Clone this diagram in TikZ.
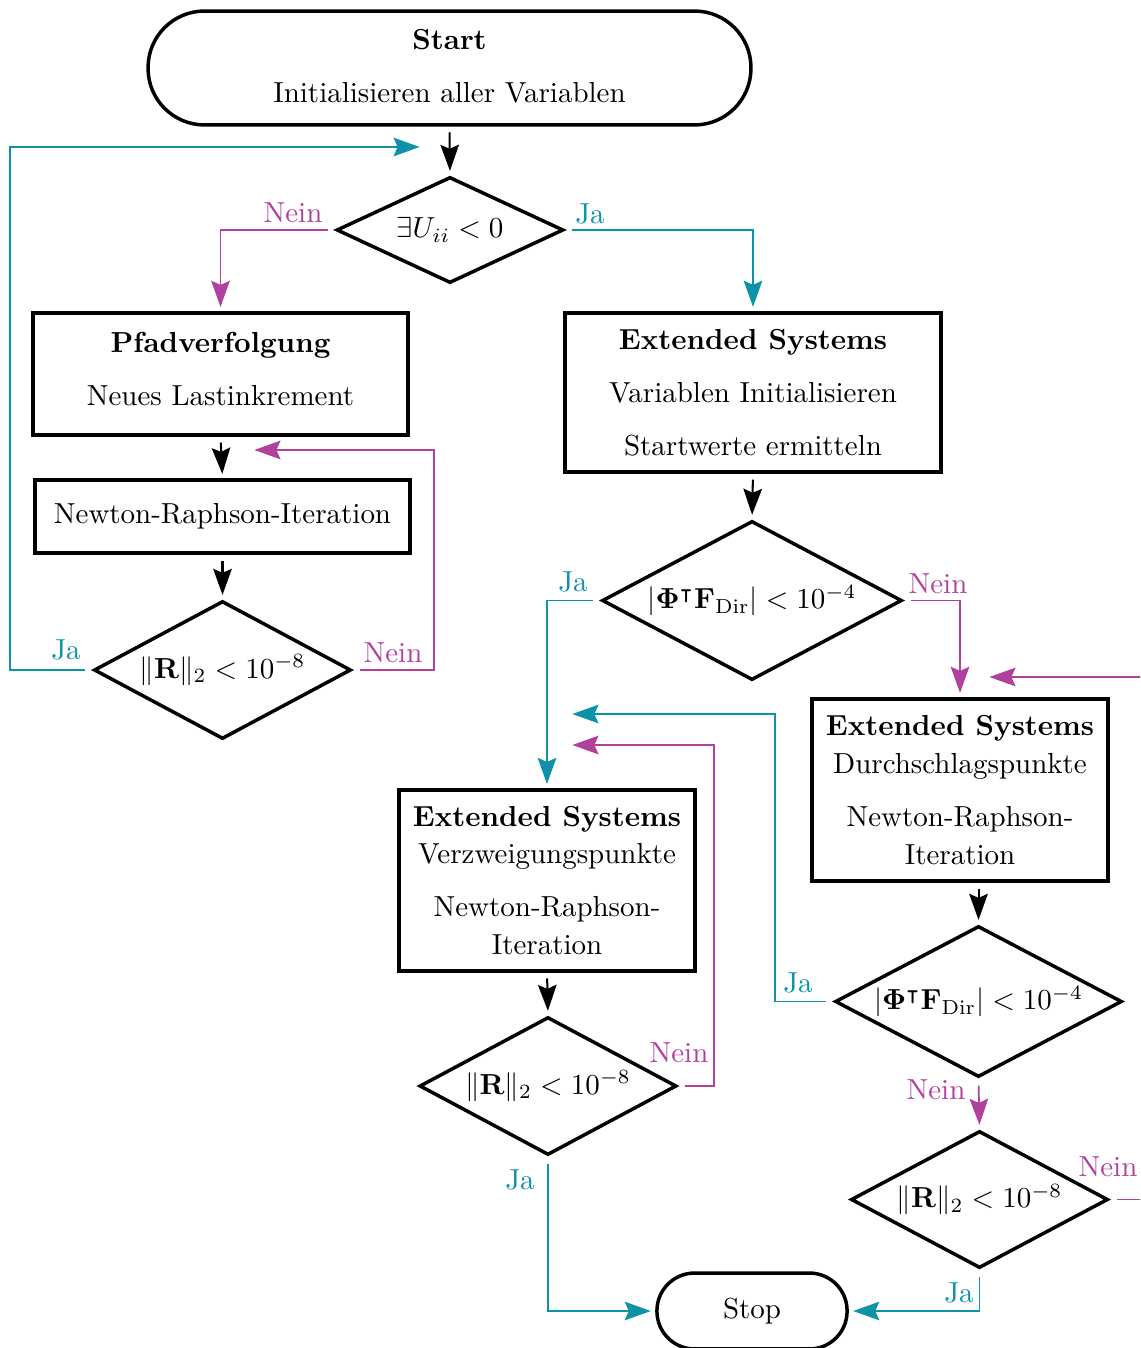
\documentclass[tikz,border=0pt]{standalone}
\usepackage{amsmath,amssymb,bm}
\usetikzlibrary{shapes.geometric,arrows.meta,calc}
\definecolor{jacol}{RGB}{14,146,168}
\definecolor{neincol}{RGB}{176,66,158}
\tikzset{
  base/.style={draw, line width=1.2pt, font=\fontsize{10}{13}\selectfont, align=center, inner sep=0pt},
  term/.style={base, rectangle, rounded corners=#1},
  box/.style={base, rectangle},
  dec/.style={base, diamond, aspect=2},
  tip/.style={-{Stealth[length=9pt,width=6.4pt,inset=1.4pt]}},
  flow/.style={tip, line width=0.7pt, shorten <=2pt, shorten >=1.5pt},
  yes/.style={tip, draw=jacol, line width=0.6pt, shorten <=2.4pt, shorten >=1.5pt},
  no/.style={tip, draw=neincol, line width=0.6pt, shorten <=2.4pt, shorten >=1.5pt},
  labja/.style={inner sep=0pt, text=jacol, font=\fontsize{10}{12}\selectfont},
  labnein/.style={inner sep=0pt, text=neincol, font=\fontsize{10}{12}\selectfont}
}
\begin{document}
\begin{tikzpicture}[x=0.345pt,y=-0.345pt]
\useasboundingbox (0,0) rectangle (1140,1348);
\clip (0,0) rectangle (1140,1348);

% nodes
\node[term=19.5pt, minimum width=208pt, minimum height=39.3pt, text depth=1.3pt] (start) at (449.5,68)
  {\textbf{Start}\\[5.3pt]Initialisieren aller Variablen};
\node[dec, minimum width=78.3pt, minimum height=36.6pt] (d1) at (450,230) {$\exists U_{ii} < 0$};
\node[box, minimum width=129.4pt, minimum height=42.1pt, text depth=3.4pt] (pfad) at (220.5,374)
  {\textbf{Pfadverfolgung}\\[5.3pt]Neues Lastinkrement};
\node[box, minimum width=129.7pt, minimum height=54.9pt] (es1) at (753,392.5)
  {\textbf{Extended Systems}\\[5.3pt]Variablen Initialisieren\\[5.3pt]Startwerte ermitteln};
\node[box, minimum width=129.4pt, minimum height=25.2pt] (nr) at (222.5,516.5) {Newton-Raphson-Iteration};
\node[dec, minimum width=88.7pt, minimum height=47.6pt] (r1) at (222.5,670) {$\|\mathbf{R}\|_2 < 10^{-8}$};
\node[dec, minimum width=103.5pt, minimum height=54.9pt] (phi1) at (752,600.5)
  {$|\bm{\Phi}^{\intercal}\mathbf{F}_{\mathrm{Dir}}| < 10^{-4}$};
\node[box, minimum width=102.1pt, minimum height=62.8pt] (esd) at (960,790)
  {\textbf{Extended Systems}\\Durchschlagspunkte\\[5.3pt]Newton-Raphson-\\Iteration};
\node[box, minimum width=102.1pt, minimum height=62.4pt] (esv) at (547,880.5)
  {\textbf{Extended Systems}\\Verzweigungspunkte\\[5.3pt]Newton-Raphson-\\Iteration};
\node[dec, minimum width=88.7pt, minimum height=47.6pt] (r2) at (548,1086) {$\|\mathbf{R}\|_2 < 10^{-8}$};
\node[term=13pt, minimum width=65.6pt, minimum height=26.2pt] (stop) at (752,1311) {Stop};
\node[dec, minimum width=99pt, minimum height=52.1pt] (phi2) at (978.5,1001.5)
  {$|\bm{\Phi}^{\intercal}\mathbf{F}_{\mathrm{Dir}}| < 10^{-4}$};
\node[dec, minimum width=88.7pt, minimum height=47.3pt] (r3) at (979.5,1199.5) {$\|\mathbf{R}\|_2 < 10^{-8}$};

% loop coordinates
\coordinate (a1) at (10,147);   \coordinate (a1t) at (424,147);
\coordinate (b1) at (434,450);  \coordinate (b1t) at (250,450);
\coordinate (c2) at (775,714);  \coordinate (c2t) at (568,714);
\coordinate (d2) at (714,745);  \coordinate (d2t) at (568,745);
\coordinate (e3) at (1170,677); \coordinate (e3t) at (985,677);

% black flow
\draw[flow] (start.south) -- (d1.north);
\draw[flow] (pfad.south) -- (nr.north);
\draw[flow] (nr.south) -- (r1.north);
\draw[flow] (es1.south) -- (phi1.north);
\draw[flow] (esv.south) -- (r2.north);
\draw[flow] (esd.south -| phi2.north) -- (phi2.north);

% branches
\draw[no]  (d1.west) -| (pfad.north);
\draw[yes] (d1.east) -| (es1.north);
\draw[yes] (r1.west) -| (a1) -- (a1t);
\draw[no]  (r1.east) -| (b1) -- (b1t);
\draw[yes] (phi1.west) -| (esv.north);
\draw[no]  (phi1.east) -| (esd.north);
\draw[yes] (phi2.west) -| (c2) -- (c2t);
\draw[no]  (r2.east) -| (d2) -- (d2t);
\draw[yes] (r2.south) |- (stop.west);
\draw[no]  (phi2.south) -- (r3.north);
\draw[yes] (r3.south) |- (stop.east);
\draw[no]  (r3.east) -| (e3) -- (e3t);

% labels
\node[labnein] (l1) at (293,213) {Nein};
\node[labja]   (l2) at (590,214) {Ja};
\node[labja]   (l3) at (66,650) {Ja};
\node[labnein] (l4) at (393,653) {Nein};
\node[labja]   (l5) at (573,582) {Ja};
\node[labnein] (l6) at (938,584) {Nein};
\node[labja]   (l7) at (798,983) {Ja};
\node[labnein] (l8) at (679,1053) {Nein};
\node[labja]   (l9) at (520,1180) {Ja};
\node[labnein] (l10) at (936,1090) {Nein};
\node[labnein] (l11) at (1108,1167) {Nein};
\node[labja]   (l12) at (959,1293) {Ja};
\end{tikzpicture}
\end{document}
